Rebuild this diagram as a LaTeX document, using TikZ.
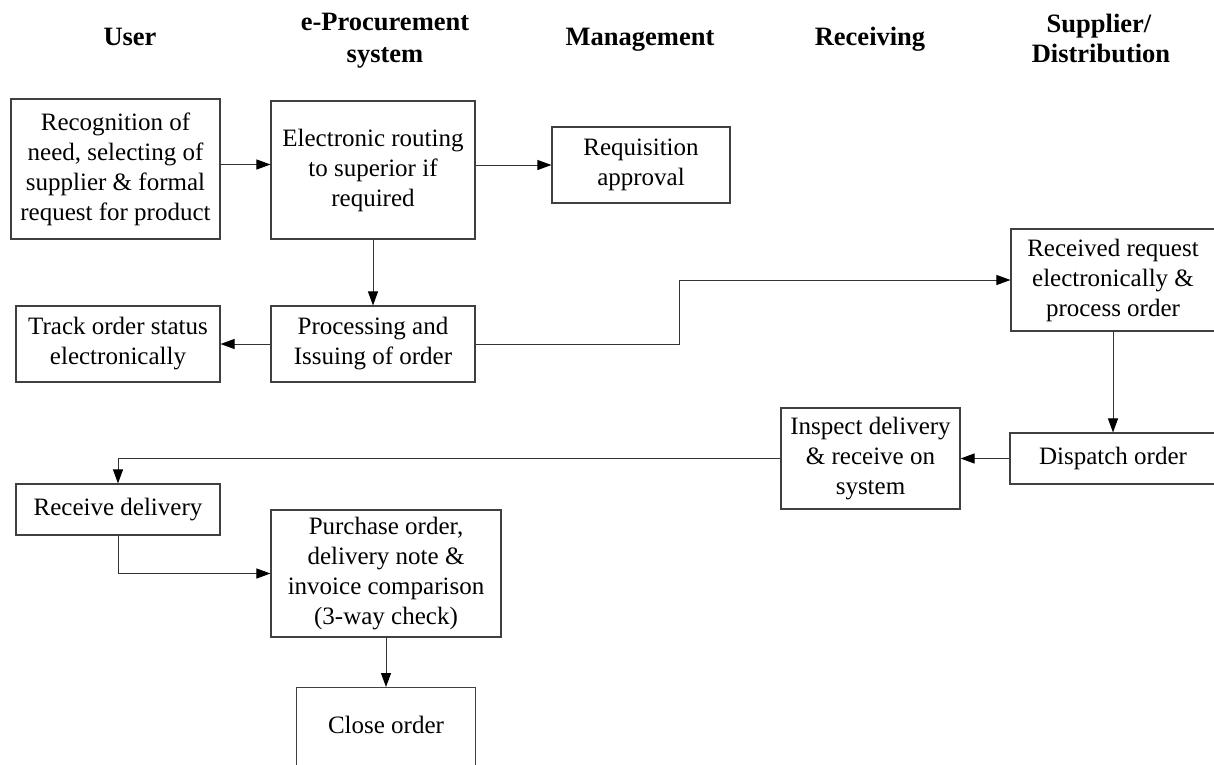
\documentclass[tikz,border=0pt]{standalone}
\usepackage{fontspec}
\setmainfont{Liberation Serif}
\usetikzlibrary{arrows.meta}
\begin{document}
\begin{tikzpicture}[x=1pt,y=-1pt,
  box/.style={draw=black!75, line width=1.1pt, inner sep=0pt, align=center,
    font=\fontsize{25pt}{30pt}\selectfont},
  hdr/.style={font=\fontsize{26.5pt}{31pt}\selectfont\bfseries, inner sep=0pt, anchor=base},
  link/.style={draw=black!80, line width=1pt},
  arr/.style={link, -{Triangle[length=14pt,width=10pt,color=black]}}]
\useasboundingbox (0,0) rectangle (1214,764);

% column headings
\node[hdr] (hUser) at (130,45) {User};
\node[hdr] (hSys1) at (385,30) {e-Procurement};
\node[hdr] (hSys2) at (385,62) {system};
\node[hdr] (hMan)  at (640,45) {Management};
\node[hdr] (hRec)  at (870,45) {Receiving};
\node[hdr] (hSup1) at (1099,32) {Supplier/};
\node[hdr] (hSup2) at (1101,62) {Distribution};

% process steps
\node[box, minimum width=209pt, minimum height=140pt] (need) at (115.5,169)
  {Recognition of\\need, selecting of\\supplier \& formal\\request for product};
\node[box, minimum width=204pt, minimum height=138pt] (route) at (373,170)
  {Electronic routing\\to superior if\\required};
\node[box, minimum width=178pt, minimum height=76pt] (approve) at (641,165)
  {Requisition\\approval};
\node[box, minimum width=204pt, minimum height=76pt] (track) at (118,344)
  {Track order status\\electronically};
\node[box, minimum width=204pt, minimum height=76pt] (issue) at (373,344)
  {Processing and\\Issuing of order};
\node[box, minimum width=204pt, minimum height=102pt] (supreq) at (1113,280)
  {Received request\\electronically \&\\process order};
\node[box, minimum width=206pt, minimum height=51pt] (dispatch) at (1113,458.5)
  {Dispatch order};
\node[box, minimum width=179pt, minimum height=101pt] (inspect) at (870.5,458.5)
  {Inspect delivery\\\& receive on\\system};
\node[box, minimum width=204pt, minimum height=51pt] (recv) at (118,509.5)
  {Receive delivery};
\node[box, minimum width=230pt, minimum height=127pt] (check) at (386,573.5)
  {Purchase order,\\delivery note \&\\invoice comparison\\(3-way check)};
\node[box, minimum width=179pt, anchor=north, text height=46pt, text depth=60pt] (close) at (386,687)
  {Close order};

% flow
\draw[arr] ([yshift=4.5pt]need.east) -- ([yshift=4.5pt]need.east -| route.west);
\draw[arr] (route.east |- approve.west) -- (approve.west);
\draw[arr] (route) -- (issue);
\draw[arr] (issue) -- (track);
\draw[arr] (issue.east) -- ++(204,0) |- (supreq.west);
\draw[arr] (supreq) -- (dispatch);
\draw[arr] (dispatch) -- (inspect);
\draw[arr] (inspect.west) -| (recv.north);
\draw[arr] (recv.south) |- (check.west);
\draw[arr] (check) -- (close);
\end{tikzpicture}
\end{document}
